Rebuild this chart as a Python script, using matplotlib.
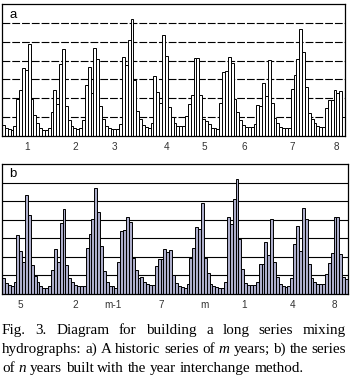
import matplotlib
matplotlib.use("Agg")
import matplotlib.pyplot as plt

# historic monthly series (panel a): 10 years x 12 months, in grid units
flows_a = [
    0.58, 0.44, 0.39, 0.32, 0.53, 1.95, 2.46, 3.61, 3.50, 4.88, 1.95, 1.14,
    0.67, 0.42, 0.33, 0.32, 0.42, 1.28, 2.42, 1.72, 3.82, 4.60, 1.58, 0.84,
    0.55, 0.41, 0.39, 0.41, 0.84, 2.70, 3.67, 2.30, 4.65, 4.06, 1.59, 0.88,
    0.53, 0.44, 0.39, 0.35, 0.35, 0.64, 4.17, 3.76, 5.09, 6.20, 2.97, 1.32,
    0.88, 0.58, 0.46, 0.41, 0.67, 3.18, 2.33, 1.75, 5.33, 4.24, 1.55, 0.99,
    0.67, 0.55, 0.55, 0.53, 1.06, 1.68, 2.20, 4.12, 4.12, 2.17, 0.90, 0.81,
    0.64, 0.42, 0.42, 0.35, 1.73, 3.41, 3.46, 4.17, 3.89, 1.94, 1.29, 0.85,
    0.58, 0.50, 0.50, 0.50, 0.64, 1.64, 1.59, 2.80, 2.12, 4.03, 1.73, 0.94,
    0.67, 0.49, 0.41, 0.41, 0.44, 2.47, 3.22, 4.06, 5.70, 4.43, 2.58, 1.24,
    0.90, 0.67, 0.55, 0.49, 0.49, 1.50, 1.91, 1.91, 2.44, 2.26, 2.38, 1.02,
]

# order in which the historic years are chained to build series b
years_b = [4, 1, 8, 6, 9, 0, 3, 7, 2, 5]

labels_a = ["1", "2", "3", "4", "5", "6", "7", "8"]
ticks_a = [8.3, 25.0, 39.0, 57.2, 70.2, 84.2, 101.0, 116.4]
labels_b = ["5", "2", "m-1", "7", "m", "1", "4", "8"]
ticks_b = [5.7, 24.8, 38.0, 54.7, 69.6, 83.4, 100.4, 114.7]

caption = [
    "Fig. 3. Diagram for building a long series mixing",
    "hydrographs: a) A historic series of m years; b) the series",
    "of n years built with the year interchange method.",
]

flows_b = []
for y in years_b:
    flows_b += flows_a[12 * y:12 * y + 12]

W, H = 355, 379
fig = plt.figure(figsize=(W / 100, H / 100), dpi=100)


def make_panel(rect, values, color, grid_style, ticks, labels, letter):
    ax = fig.add_axes(rect)
    x = list(range(len(values)))
    for g in range(1, 7):
        if grid_style == "dashed":
            ax.axhline(g, color="black", lw=0.8, dashes=(7, 1.8), zorder=1)
        else:
            ax.axhline(g, color="black", lw=0.8, zorder=1)
    ax.bar(x, values, width=1.0, color=color, edgecolor="black", linewidth=0.7, zorder=2)
    ax.set_xlim(-0.5, len(values) - 0.5)
    ax.set_ylim(0, 7)
    ax.set_yticks([])
    ax.set_xticks(ticks)
    ax.set_xticklabels(labels, fontsize=7.2, family="Liberation Sans", color="#333333")
    ax.tick_params(axis="x", length=0, pad=4)
    for s in ax.spines.values():
        s.set_linewidth(0.9)
        s.set_zorder(3)
    ax.text(0.022, 0.92, letter, transform=ax.transAxes, fontsize=9.5,
            family="Liberation Sans", va="center", ha="left")
    return ax


make_panel([2 / W, 1 - 136 / H, 343 / W, 132 / H], flows_a, "white", "dashed",
           ticks_a, labels_a, "a")
make_panel([2 / W, 1 - 294 / H, 346 / W, 130 / H], flows_b, "#adaecb", "solid",
           ticks_b, labels_b, "b")

# caption, first two lines justified
fig.canvas.draw()
renderer = fig.canvas.get_renderer()
cap_size = 10.9
baselines = [334, 353, 372]
left, right = 2, 346
for i, line in enumerate(caption):
    words = line.split(" ")
    texts = []
    for w in words:
        style = "italic" if w in ("m", "n") else "normal"
        t = fig.text(0, 0, w, fontsize=cap_size, family="Liberation Serif",
                     style=style, va="baseline", ha="left")
        texts.append(t)
    widths = [t.get_window_extent(renderer).width for t in texts]
    if i < 2:
        gap = (right - left - sum(widths)) / (len(words) - 1)
    else:
        gap = cap_size * 100 / 72 * 0.25
    xpos = left
    for t, w in zip(texts, widths):
        t.set_position((xpos / W, 1 - baselines[i] / H))
        xpos += w + gap

fig.savefig("out.png", dpi=100)
